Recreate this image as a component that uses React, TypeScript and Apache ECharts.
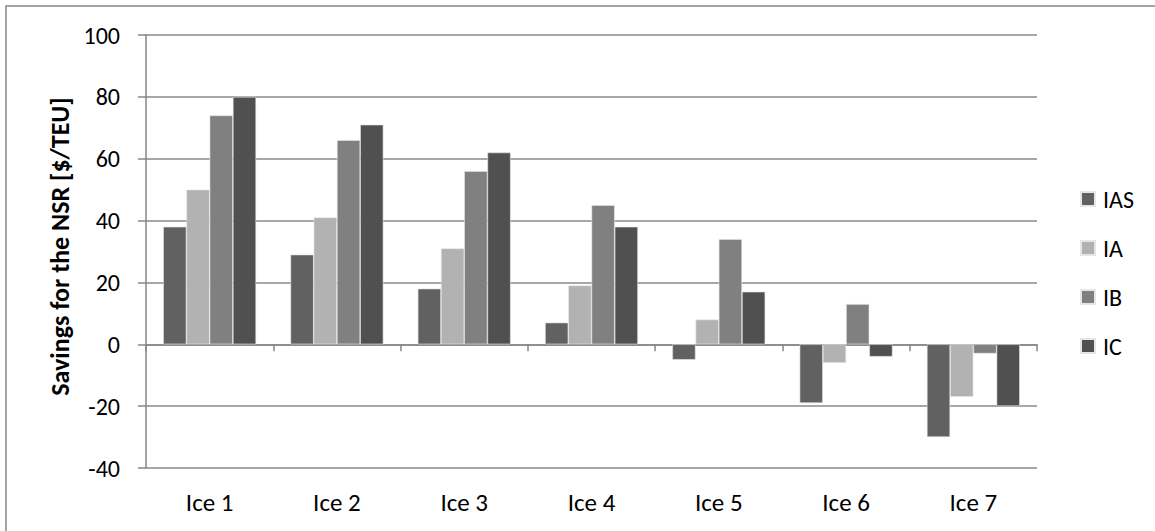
import React, { useEffect, useRef } from "react";
import * as echarts from "echarts";

const categories = ["Ice 1", "Ice 2", "Ice 3", "Ice 4", "Ice 5", "Ice 6", "Ice 7"];
const seriesNames = ["IAS", "IA", "IB", "IC"];
const iasValues = [38, 29, 18, 7, -5, -19, -30];
const iaValues = [50, 41, 31, 19, 8, -6, -17];
const ibValues = [74, 66, 56, 45, 34, 13, -3];
const icValues = [80, 71, 62, 38, 17, -4, -20];
const colors = ["#616161", "#b2b2b2", "#808080", "#505050"];
const yTicks = { min: -40, max: 100, interval: 20 };

const FONT = "Carlito, Lato, 'Liberation Sans', sans-serif";

export default function App() {
  const ref = useRef<HTMLDivElement>(null);
  useEffect(() => {
    document.body.style.margin = "0";
    const chart = echarts.init(ref.current!, undefined, { renderer: "svg" });
    const values = [iasValues, iaValues, ibValues, icValues];
    chart.setOption({
      animation: false,
      backgroundColor: "#ffffff",
      textStyle: { fontFamily: FONT },
      graphic: [
        {
          type: "rect",
          shape: { x: 6, y: 6, width: 1200, height: 600 },
          style: { fill: "none", stroke: "#868686", lineWidth: 1.5 },
          z: -1,
        },
      ],
      grid: { left: 146, right: 118, top: 35, bottom: 63 },
      legend: {
        orient: "vertical",
        left: 1075,
        top: 182,
        itemWidth: 14,
        itemHeight: 14,
        itemGap: 25,
        icon: "rect",
        data: seriesNames,
        textStyle: {
          fontFamily: FONT,
          fontSize: 24,
          lineHeight: 24,
          color: "#000",
          padding: [0, 0, 0, 3],
        },
      },
      xAxis: [
        {
          type: "category",
          data: categories,
          axisLine: { onZero: true, lineStyle: { color: "#868686", width: 1.5 } },
          axisTick: { show: true, length: 7, lineStyle: { color: "#868686", width: 1.5 } },
          axisLabel: { show: false },
        },
        {
          type: "category",
          data: categories,
          position: "bottom",
          axisLine: { show: false },
          axisTick: { show: false },
          axisLabel: { fontFamily: FONT, fontSize: 25, color: "#000", margin: 22 },
        },
      ],
      yAxis: {
        type: "value",
        min: yTicks.min,
        max: yTicks.max,
        interval: yTicks.interval,
        name: "Savings for the NSR [$/TEU]",
        nameLocation: "middle",
        nameGap: 69,
        nameTextStyle: {
          fontFamily: FONT,
          fontSize: 26,
          fontWeight: "bold",
          color: "#000",
          padding: [0, 0, 0, 10],
        },
        axisLine: { show: true, lineStyle: { color: "#868686", width: 1.5 } },
        axisTick: { show: true, length: 8, lineStyle: { color: "#868686", width: 1.5 } },
        axisLabel: { fontFamily: FONT, fontSize: 24, color: "#000", margin: 26 },
        splitLine: { lineStyle: { color: "#8a8a8a", width: 1.5 } },
      },
      series: seriesNames.map((name, i) => ({
        name,
        type: "bar",
        xAxisIndex: 0,
        data: values[i],
        barGap: "0%",
        barCategoryGap: "27%",
        itemStyle: { color: colors[i], borderColor: "#e6e6e6", borderWidth: 0.6 },
      })),
    });
    return () => chart.dispose();
  }, []);
  return (
    <div
      ref={ref}
      style={{ position: "absolute", left: 0, top: 0, width: 1155, height: 531 }}
    />
  );
}
